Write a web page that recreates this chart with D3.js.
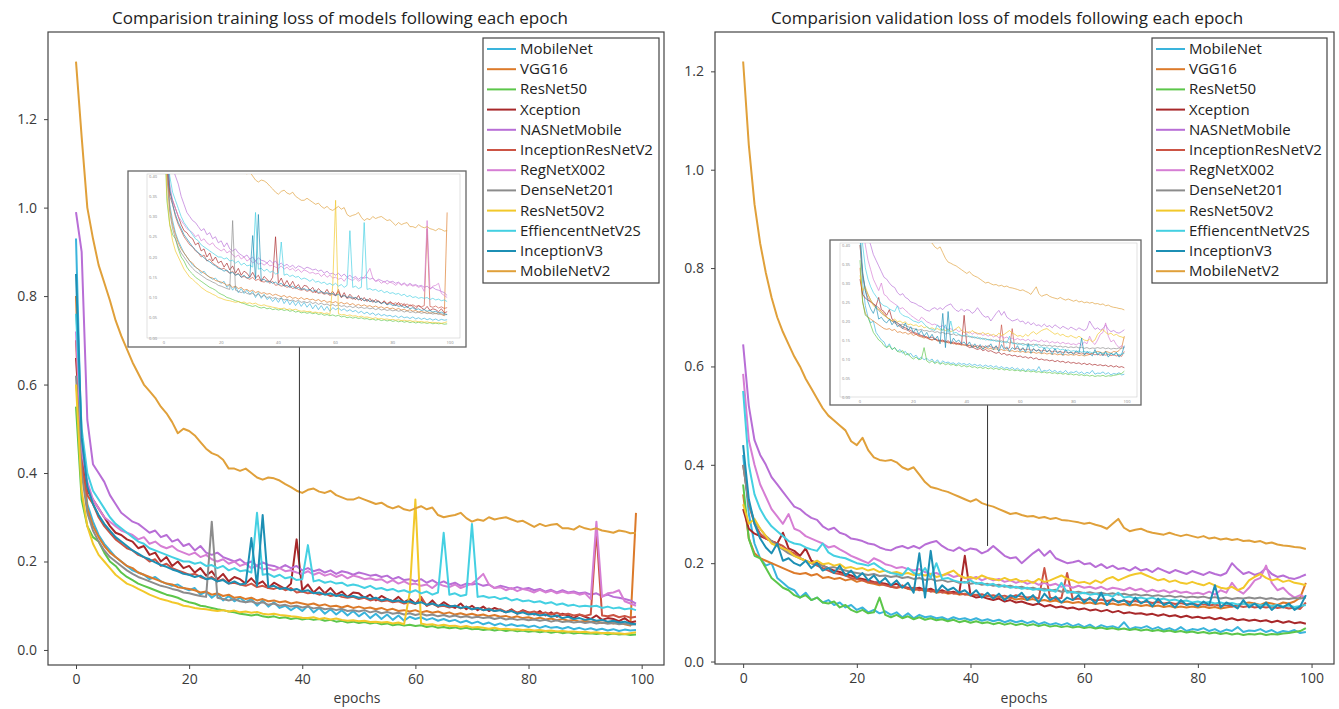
<!DOCTYPE html>
<html><head><meta charset="utf-8">
<script src="https://cdn.jsdelivr.net/npm/d3@7"></script>
<style>body{margin:0;background:#fff}svg{display:block}text{font-family:"Open Sans",sans-serif}</style>
</head><body><svg id="c" width="1339" height="709"></svg>
<script>
const models = ["MobileNet","VGG16","ResNet50","Xception","NASNetMobile","InceptionResNetV2","RegNetX002","DenseNet201","ResNet50V2","EffiencentNetV2S","InceptionV3","MobileNetV2"];
const colors = ["#3ab4dc","#dc7a2a","#5cc64a","#a8282a","#b86ed6","#cc5444","#d67ed4","#8c8c8c","#f2c82a","#44d0e2","#1c8fb4","#e0a03a"];
const epochs = [0,1,2,3,4,5,6,7,8,9,10,11,12,13,14,15,16,17,18,19,20,21,22,23,24,25,26,27,28,29,30,31,32,33,34,35,36,37,38,39,40,41,42,43,44,45,46,47,48,49,50,51,52,53,54,55,56,57,58,59,60,61,62,63,64,65,66,67,68,69,70,71,72,73,74,75,76,77,78,79,80,81,82,83,84,85,86,87,88,89,90,91,92,93,94,95,96,97,98,99];
const xTicks = [0,20,40,60,80,100];
const yTicks = [0,0.2,0.4,0.6,0.8,1.0,1.2];
const insetYTicks = [0,0.05,0.1,0.15,0.2,0.25,0.3,0.35,0.4];
const titles = ["Comparision training loss of models following each epoch","Comparision validation loss of models following each epoch"];
const xLabel = "epochs";

// ---------- training loss ----------
const trainMobileNet = [.93,.45,.33,.29,.26,.24,.225,.21,.2,.19, .18,.175,.17,.16,.165,.155,.15,.145,.148,.14, .135,.14,.125,.132,.118,.128,.112,.122,.11,.118, .108,.115,.1,.112,.098,.108,.095,.1,.09,.098, .088,.1,.085,.095,.082,.092,.08,.09,.078,.088, .076,.085,.072,.082,.07,.08,.068,.078,.066,.075, .07,.074,.068,.072,.066,.07,.065,.068,.062,.066, .06,.064,.058,.062,.056,.06,.055,.058,.054,.056, .052,.055,.05,.054,.05,.052,.048,.052,.047,.05, .046,.049,.045,.048,.044,.047,.043,.046,.044,.045];
const trainVGG16 = [.80,.42,.32,.28,.255,.235,.22,.21,.2,.19, .185,.175,.17,.165,.16,.155,.15,.148,.142,.14, .138,.135,.13,.132,.125,.128,.122,.125,.118,.12, .115,.118,.112,.115,.11,.112,.108,.11,.105,.108, .105,.102,.105,.1,.103,.098,.1,.096,.1,.095, .098,.094,.096,.092,.095,.09,.093,.088,.09,.087, .09,.085,.088,.084,.087,.082,.085,.08,.083,.079, .082,.078,.08,.076,.079,.075,.077,.073,.076,.072, .074,.07,.073,.069,.071,.067,.07,.066,.068,.064, .066,.063,.065,.061,.063,.06,.062,.058,.055,.31];
const trainResNet50 = [.55,.34,.28,.255,.245,.22,.2,.19,.175,.165, .158,.15,.145,.14,.135,.13,.125,.122,.118,.112, .108,.105,.1,.098,.095,.092,.09,.087,.085,.082, .08,.078,.08,.076,.074,.076,.072,.074,.07,.072, .069,.071,.068,.07,.066,.068,.064,.066,.062,.064, .061,.063,.06,.062,.058,.06,.056,.058,.055,.057, .054,.056,.052,.054,.05,.052,.049,.051,.048,.05, .047,.048,.045,.047,.044,.046,.043,.045,.042,.044, .041,.043,.04,.042,.039,.041,.038,.04,.037,.039, .037,.038,.036,.038,.035,.037,.035,.036,.034,.035];
const trainXception = [.66,.45,.36,.34,.32,.30,.28,.265,.26,.25, .245,.23,.235,.215,.22,.2,.21,.19,.2,.185, .19,.175,.185,.168,.178,.16,.172,.155,.165,.16, .15,.162,.148,.155,.14,.152,.145,.138,.15,.25, .135,.148,.13,.142,.128,.14,.125,.132,.12,.13, .128,.118,.125,.112,.122,.115,.11,.12,.108,.115, .105,.115,.1,.112,.098,.108,.1,.095,.105,.092, .1,.09,.098,.088,.095,.09,.085,.092,.082,.09, .085,.08,.088,.078,.085,.075,.082,.078,.072,.08, .075,.07,.078,.068,.072,.07,.065,.072,.062,.065];
const trainNASNetMobile = [.99,.90,.52,.42,.40,.38,.35,.33,.31,.30, .29,.285,.275,.265,.27,.255,.26,.245,.25,.235, .24,.225,.235,.22,.215,.22,.21,.205,.2,.205, .195,.2,.19,.198,.192,.19,.185,.192,.185,.19, .18,.185,.178,.182,.175,.18,.172,.178,.175,.17, .175,.172,.168,.17,.165,.168,.16,.165,.158,.16, .155,.16,.152,.158,.15,.155,.148,.152,.145,.15, .148,.15,.145,.148,.14,.145,.142,.138,.142,.138, .14,.135,.138,.132,.136,.13,.135,.13,.132,.128, .13,.125,.128,.122,.125,.12,.118,.115,.112,.105];
const trainInceptionResNetV2 = [.70,.42,.35,.33,.30,.28,.265,.25,.24,.23, .225,.215,.21,.2,.205,.19,.195,.185,.18,.175, .17,.172,.165,.16,.165,.155,.16,.15,.152,.148, .145,.15,.142,.145,.14,.138,.142,.135,.14,.13, .132,.128,.13,.125,.128,.122,.125,.12,.118,.12, .115,.118,.112,.115,.11,.112,.108,.11,.105,.108, .104,.12,.1,.105,.098,.1,.096,.1,.094,.098, .092,.095,.09,.094,.088,.092,.086,.09,.085,.088, .084,.087,.082,.085,.08,.084,.079,.082,.078,.08, .077,.08,.27,.078,.076,.079,.074,.077,.073,.075];
const trainRegNetX002 = [.72,.45,.38,.34,.32,.30,.29,.28,.27,.265, .26,.25,.255,.24,.245,.235,.23,.235,.225,.22, .215,.22,.21,.215,.205,.2,.205,.195,.2,.19, .195,.185,.19,.182,.185,.18,.185,.178,.18,.175, .172,.178,.17,.175,.168,.172,.165,.17,.162,.168, .165,.16,.162,.158,.16,.152,.158,.15,.155,.148, .15,.145,.148,.14,.15,.145,.142,.148,.14,.145, .15,.16,.172,.148,.14,.142,.135,.14,.133,.138, .135,.13,.136,.13,.134,.128,.132,.128,.13,.125, .128,.115,.29,.12,.128,.13,.135,.11,.105,.10];
const trainDenseNet201 = [.62,.40,.31,.27,.245,.225,.21,.2,.19,.18, .172,.165,.16,.155,.15,.145,.142,.138,.135,.13, .128,.125,.122,.12,.29,.118,.115,.112,.115,.11, .108,.11,.105,.108,.102,.105,.1,.102,.098,.1, .096,.098,.094,.096,.092,.094,.09,.093,.088,.09, .087,.09,.085,.088,.083,.086,.082,.084,.08,.083, .079,.082,.078,.08,.076,.079,.075,.078,.074,.076, .073,.075,.072,.074,.07,.073,.069,.071,.068,.07, .067,.069,.066,.068,.064,.067,.063,.065,.062,.064, .061,.063,.06,.062,.059,.061,.058,.06,.057,.058];
const trainResNet50V2 = [.60,.36,.28,.24,.215,.2,.185,.17,.16,.15, .145,.138,.132,.125,.12,.115,.112,.108,.105,.1, .098,.095,.093,.092,.09,.088,.09,.087,.089,.085, .087,.084,.086,.082,.08,.082,.079,.078,.076,.075, .073,.072,.074,.07,.072,.069,.071,.068,.066,.067, .065,.066,.063,.064,.062,.063,.06,.062,.058,.13, .34,.06,.057,.058,.055,.057,.054,.055,.052,.054, .051,.052,.05,.048,.05,.047,.048,.046,.047,.045, .046,.044,.045,.043,.044,.042,.043,.041,.042,.04, .041,.039,.04,.038,.039,.037,.038,.036,.038,.04];
const trainEffiencentNetV2S = [.76,.50,.40,.36,.34,.32,.30,.285,.275,.265, .255,.245,.24,.23,.225,.22,.215,.21,.205,.2, .2,.195,.198,.19,.192,.185,.19,.18,.185,.178, .18,.175,.31,.17,.172,.165,.17,.162,.165,.158, .16,.237,.155,.158,.152,.155,.15,.152,.145,.148, .145,.14,.145,.138,.14,.135,.138,.132,.135,.13, .135,.128,.132,.125,.13,.265,.125,.128,.122,.125, .285,.12,.122,.118,.12,.115,.118,.112,.115,.11, .112,.108,.11,.105,.108,.102,.105,.1,.102,.098, .1,.098,.1,.095,.098,.094,.096,.092,.094,.09];
const trainInceptionV3 = [.85,.48,.37,.33,.305,.285,.27,.255,.245,.235, .225,.218,.21,.205,.198,.192,.188,.182,.178,.172, .17,.165,.168,.16,.162,.155,.158,.15,.155,.148, .15,.253,.145,.305,.142,.145,.138,.14,.135,.138, .132,.135,.128,.13,.125,.128,.122,.125,.12,.122, .118,.12,.115,.118,.112,.115,.11,.112,.108,.11, .105,.108,.102,.105,.1,.102,.098,.1,.095,.098, .092,.095,.09,.092,.088,.09,.085,.088,.082,.085, .08,.082,.078,.08,.075,.078,.072,.075,.07,.072, .068,.07,.066,.068,.064,.066,.062,.064,.06,.058];
const trainMobileNetV2 = [1.33,1.16,1.00,.93,.87,.83,.79,.745,.71,.68, .65,.625,.60,.585,.57,.55,.535,.515,.49,.50, .495,.485,.47,.455,.445,.44,.43,.41,.41,.405, .41,.40,.39,.385,.39,.388,.383,.375,.368,.36, .355,.362,.365,.358,.355,.36,.35,.345,.34,.34, .345,.34,.335,.33,.333,.325,.32,.325,.318,.315, .32,.325,.318,.322,.305,.30,.303,.305,.31,.298, .29,.295,.292,.30,.295,.298,.30,.295,.29,.292, .285,.278,.285,.28,.283,.285,.275,.275,.272,.28, .275,.272,.275,.27,.268,.265,.27,.268,.264,.265];

// ---------- validation loss ----------
const valMobileNet = [.42,.3,.24,.21,.195,.2,.17,.16,.15,.145, .13,.14,.125,.13,.12,.125,.115,.12,.11,.115, .105,.11,.1,.105,.098,.102,.095,.1,.09,.098, .088,.095,.09,.092,.088,.09,.085,.09,.086,.088, .084,.088,.083,.086,.082,.085,.08,.084,.08,.083, .078,.082,.076,.08,.075,.078,.074,.078,.072,.076, .07,.075,.068,.074,.07,.072,.068,.08,.066,.07, .068,.072,.066,.07,.064,.068,.063,.07,.062,.066, .064,.068,.062,.066,.06,.065,.062,.07,.06,.063, .062,.066,.06,.064,.058,.062,.06,.064,.058,.06];
const valVGG16 = [.34,.25,.22,.21,.205,.2,.195,.19,.185,.18, .178,.18,.175,.178,.17,.172,.168,.17,.165,.168, .162,.165,.16,.158,.155,.158,.152,.15,.152,.148, .145,.148,.143,.145,.14,.142,.138,.14,.136,.138, .134,.136,.132,.134,.13,.132,.128,.13,.126,.128, .125,.127,.123,.125,.122,.124,.12,.122,.119,.121, .118,.12,.117,.119,.116,.118,.115,.117,.114,.116, .113,.115,.112,.114,.111,.113,.11,.112,.11,.112, .11,.112,.109,.111,.108,.11,.112,.115,.118,.12, .118,.115,.12,.118,.115,.12,.118,.122,.13,.16];
const valResNet50 = [.36,.25,.215,.21,.19,.17,.16,.15,.145,.135, .13,.135,.125,.13,.12,.118,.122,.11,.115,.105, .1,.105,.098,.1,.13,.095,.09,.095,.088,.092, .086,.09,.085,.088,.084,.086,.082,.085,.08,.083, .079,.082,.078,.08,.076,.079,.075,.078,.074,.077, .073,.076,.072,.075,.071,.073,.07,.072,.069,.071, .068,.07,.067,.069,.066,.068,.065,.067,.064,.066, .063,.065,.062,.064,.061,.063,.06,.062,.059,.061, .058,.06,.057,.059,.056,.058,.055,.057,.054,.056, .055,.057,.054,.056,.055,.057,.058,.06,.062,.068];
const valXception = [.31,.27,.26,.255,.25,.245,.24,.262,.23,.225, .215,.23,.205,.2,.195,.19,.185,.182,.178,.175, .17,.168,.165,.162,.16,.158,.155,.158,.152,.15, .148,.15,.145,.148,.142,.145,.14,.142,.138,.215, .135,.13,.132,.128,.125,.128,.122,.125,.12,.122, .118,.115,.118,.112,.115,.11,.112,.108,.11,.106, .108,.104,.106,.102,.105,.1,.103,.098,.1,.097, .098,.095,.097,.093,.096,.092,.094,.09,.093,.089, .091,.088,.09,.086,.089,.085,.088,.084,.086,.083, .085,.082,.084,.08,.083,.079,.082,.078,.08,.077];
const valNASNetMobile = [.645,.52,.45,.42,.40,.375,.36,.345,.33,.315, .31,.30,.292,.288,.275,.268,.272,.262,.258,.25, .248,.245,.24,.238,.232,.228,.226,.232,.235,.23, .235,.23,.238,.242,.245,.235,.228,.225,.232,.225, .23,.228,.22,.225,.235,.225,.215,.21,.212,.2, .21,.22,.228,.215,.225,.21,.205,.2,.202,.205, .198,.2,.192,.198,.19,.195,.188,.19,.185,.192, .185,.188,.182,.19,.185,.18,.186,.182,.178,.184, .18,.176,.182,.178,.175,.18,.2,.188,.178,.182, .176,.18,.19,.178,.172,.175,.17,.168,.172,.177];
const valInceptionResNetV2 = [.40,.32,.28,.26,.25,.245,.24,.235,.225,.22, .21,.205,.2,.195,.19,.185,.18,.178,.175,.17, .168,.165,.162,.16,.158,.155,.152,.15,.155,.148, .15,.145,.148,.142,.145,.14,.143,.138,.14,.136, .138,.135,.137,.133,.135,.132,.134,.13,.135,.132, .13,.132,.128,.19,.13,.127,.129,.18,.126,.128, .125,.127,.124,.126,.123,.125,.122,.124,.121,.123, .12,.122,.119,.121,.118,.12,.117,.119,.116,.118, .115,.117,.114,.116,.113,.115,.112,.114,.111,.113, .11,.112,.11,.112,.109,.111,.108,.11,.107,.12];
const valRegNetX002 = [.585,.45,.40,.36,.335,.31,.295,.28,.30,.27, .265,.255,.25,.245,.24,.232,.235,.228,.222,.215, .21,.205,.2,.21,.205,.198,.195,.19,.192,.188, .185,.188,.182,.178,.18,.175,.178,.172,.175,.17, .168,.172,.165,.17,.165,.168,.162,.165,.16,.164, .158,.162,.156,.16,.155,.158,.152,.155,.15,.154, .15,.152,.148,.152,.146,.15,.148,.145,.15,.145, .148,.142,.146,.142,.145,.14,.144,.14,.142,.138, .14,.137,.142,.136,.145,.14,.16,.145,.138,.15, .165,.17,.195,.16,.145,.15,.138,.13,.135,.13];
const valDenseNet201 = [.40,.32,.285,.27,.255,.245,.235,.228,.22,.215, .21,.205,.2,.198,.195,.19,.192,.188,.185,.182, .18,.178,.176,.178,.174,.175,.172,.174,.17,.172, .168,.17,.166,.168,.164,.166,.162,.164,.16,.162, .158,.16,.156,.158,.154,.156,.152,.154,.15,.152, .148,.15,.146,.148,.144,.146,.142,.144,.14,.142, .139,.141,.138,.14,.137,.139,.136,.138,.135,.137, .134,.136,.133,.135,.132,.134,.131,.133,.13,.132, .13,.132,.129,.131,.128,.13,.127,.129,.128,.13, .128,.13,.127,.129,.126,.128,.127,.129,.128,.13];
const valResNet50V2 = [.32,.28,.29,.27,.255,.24,.235,.23,.225,.215, .21,.205,.2,.205,.198,.2,.195,.198,.19,.192, .188,.19,.185,.188,.182,.185,.18,.182,.178,.18, .176,.178,.175,.178,.172,.175,.18,.185,.175,.17, .172,.168,.175,.17,.168,.165,.17,.165,.168,.162, .165,.16,.168,.162,.165,.17,.175,.168,.165,.16, .162,.158,.165,.16,.168,.172,.165,.17,.175,.178, .18,.175,.17,.165,.168,.162,.165,.16,.158,.162, .158,.155,.16,.155,.15,.148,.152,.145,.15,.165, .172,.178,.17,.165,.168,.162,.165,.16,.158,.155];
const valEffiencentNetV2S = [.55,.40,.34,.31,.29,.275,.265,.255,.245,.24, .238,.232,.228,.225,.24,.222,.215,.212,.21,.205, .2,.198,.195,.2,.192,.185,.18,.178,.175,.19, .18,.175,.19,.17,.2,.168,.17,.165,.162,.16, .165,.158,.16,.155,.158,.152,.155,.15,.152,.148, .15,.146,.148,.144,.146,.142,.16,.14,.142,.138, .14,.136,.138,.134,.136,.132,.14,.13,.132,.128, .13,.127,.13,.125,.128,.124,.126,.122,.124,.12, .122,.119,.121,.118,.12,.117,.119,.116,.118,.115, .117,.114,.116,.113,.115,.112,.114,.111,.113,.115];
const valInceptionV3 = [.44,.33,.28,.25,.232,.22,.24,.205,.21,.2, .195,.205,.19,.2,.185,.19,.18,.195,.175,.185, .17,.18,.165,.175,.16,.17,.155,.165,.15,.16, .14,.22,.13,.225,.14,.155,.145,.15,.14,.145, .135,.145,.13,.14,.128,.138,.125,.135,.13,.14, .125,.135,.12,.138,.125,.132,.12,.13,.125,.135, .12,.13,.118,.14,.115,.128,.12,.125,.115,.13, .118,.125,.112,.128,.115,.12,.11,.125,.115,.118, .112,.122,.115,.155,.11,.12,.115,.108,.125,.11, .118,.108,.12,.105,.115,.11,.118,.105,.112,.135];
const valMobileNetV2 = [1.22,1.05,.93,.85,.79,.74,.70,.67,.645,.62, .60,.575,.555,.535,.515,.50,.49,.48,.47,.448, .44,.455,.43,.415,.41,.408,.41,.405,.395,.39, .395,.38,.365,.355,.352,.348,.345,.34,.335,.33, .325,.33,.322,.318,.315,.31,.305,.30,.302,.298, .295,.296,.292,.294,.29,.292,.288,.287,.285,.283, .28,.282,.278,.275,.27,.28,.29,.272,.265,.268, .27,.265,.262,.26,.258,.262,.258,.255,.258,.255, .252,.255,.25,.252,.248,.25,.247,.249,.245,.246, .243,.245,.24,.242,.238,.236,.235,.233,.232,.229];

const trainSeries = [trainMobileNet,trainVGG16,trainResNet50,trainXception,trainNASNetMobile,trainInceptionResNetV2,trainRegNetX002,trainDenseNet201,trainResNet50V2,trainEffiencentNetV2S,trainInceptionV3,trainMobileNetV2];
const valSeries = [valMobileNet,valVGG16,valResNet50,valXception,valNASNetMobile,valInceptionResNetV2,valRegNetX002,valDenseNet201,valResNet50V2,valEffiencentNetV2S,valInceptionV3,valMobileNetV2];

// connector anchor (epoch, loss) for each panel
const connectorEpochs = [39.5, 43];
const connectorLoss = [0.17, 0.235];

const svg = d3.select("#c");

const panels = [
  {series: trainSeries, title: titles[0], x0:48, x1:664, y0:32, y1:665, yDom:[-0.034,1.397], titleX:340, labelX:357, legX:483, legW:176,
   inset:{ox:128, oy:171, ow:338, oh:176, fx0:147, fx1:460, fy0:174, fy1:338, dx0:164, dx1:450, dy0:338, dy1:176}},
  {series: valSeries, title: titles[1], x0:715, x1:1334, y0:32, y1:664, yDom:[-0.005,1.28], titleX:1007, labelX:1024, legX:1152, legW:175,
   inset:{ox:830, oy:240, ow:311, oh:165, fx0:840, fx1:1137, fy0:243, fy1:397, dx0:860, dx1:1127, dy0:397, dy1:245}}
];

panels.forEach((p, pi) => {
  const g = svg.append("g");
  const x = d3.scaleLinear().domain([-4.95, 103.95]).range([p.x0, p.x1]);
  const y = d3.scaleLinear().domain(p.yDom).range([p.y1, p.y0]);

  const clipId = "clip" + pi;
  svg.append("clipPath").attr("id", clipId).append("rect")
    .attr("x", p.x0).attr("y", p.y0).attr("width", p.x1 - p.x0).attr("height", p.y1 - p.y0);

  const line = d3.line().x((d, i) => x(epochs[i])).y(d => y(d));
  const lg = g.append("g").attr("clip-path", `url(#${clipId})`);
  p.series.forEach((s, i) => {
    lg.append("path").attr("d", line(s)).attr("fill", "none")
      .attr("stroke", colors[i]).attr("stroke-width", 2).attr("stroke-linejoin", "round");
  });

  // axes
  const ax = g.append("g").attr("transform", `translate(0,${p.y1})`)
    .call(d3.axisBottom(x).tickValues(xTicks).tickSize(4).tickPadding(5).tickFormat(d3.format("d")));
  const ay = g.append("g").attr("transform", `translate(${p.x0},0)`)
    .call(d3.axisLeft(y).tickValues(yTicks).tickSize(4).tickPadding(7).tickFormat(d3.format(".1f")));
  [ax, ay].forEach(a => {
    a.select(".domain").remove();
    a.selectAll("line").attr("stroke", "#444");
    a.selectAll("text").attr("font-size", 14).attr("fill", "#3a3a3a").attr("font-family", "Open Sans");
  });
  g.append("rect").attr("x", p.x0).attr("y", p.y0).attr("width", p.x1 - p.x0).attr("height", p.y1 - p.y0)
    .attr("fill", "none").attr("stroke", "#444").attr("stroke-width", 1.2);

  g.append("text").attr("x", p.titleX).attr("y", 24).attr("text-anchor", "middle")
    .attr("font-size", 17).attr("fill", "#222").text(p.title);
  g.append("text").attr("x", p.labelX).attr("y", 703).attr("text-anchor", "middle")
    .attr("font-size", 14).attr("fill", "#3a3a3a").text(xLabel);

  // connector
  const ins = p.inset;
  g.append("line").attr("x1", x(connectorEpochs[pi])).attr("x2", x(connectorEpochs[pi]))
    .attr("y1", ins.oy + ins.oh).attr("y2", y(connectorLoss[pi]))
    .attr("stroke", "#333").attr("stroke-width", 1);

  // inset
  const ig = g.append("g");
  ig.append("rect").attr("x", ins.ox).attr("y", ins.oy).attr("width", ins.ow).attr("height", ins.oh)
    .attr("fill", "#fff").attr("stroke", "#666").attr("stroke-width", 1.3);
  ig.append("rect").attr("x", ins.fx0).attr("y", ins.fy0).attr("width", ins.fx1 - ins.fx0).attr("height", ins.fy1 - ins.fy0)
    .attr("fill", "none").attr("stroke", "#ccc").attr("stroke-width", 0.6);
  const ix = d3.scaleLinear().domain([0, 100]).range([ins.dx0, ins.dx1]);
  const iy = d3.scaleLinear().domain([0, 0.4]).range([ins.dy0, ins.dy1]);
  const iclip = "iclip" + pi;
  svg.append("clipPath").attr("id", iclip).append("rect")
    .attr("x", ins.fx0).attr("y", ins.fy0).attr("width", ins.fx1 - ins.fx0).attr("height", ins.fy1 - ins.fy0);
  const iline = d3.line().x((d, i) => ix(epochs[i])).y(d => iy(d));
  const ilg = ig.append("g").attr("clip-path", `url(#${iclip})`);
  p.series.forEach((s, i) => {
    ilg.append("path").attr("d", iline(s)).attr("fill", "none")
      .attr("stroke", colors[i]).attr("stroke-width", 0.9).attr("stroke-opacity", 0.75);
  });
  insetYTicks.forEach(t => {
    ig.append("text").attr("x", ins.fx0 + 10).attr("y", iy(t) + 1.5).attr("text-anchor", "end")
      .attr("font-size", 4).attr("fill", "#888").text(t.toFixed(2));
  });
  xTicks.forEach(t => {
    ig.append("text").attr("x", ix(t)).attr("y", ins.fy1 + 6).attr("text-anchor", "middle")
      .attr("font-size", 4).attr("fill", "#888").text(t);
  });

  // legend
  const leg = g.append("g");
  leg.append("rect").attr("x", p.legX).attr("y", 38).attr("width", p.legW).attr("height", 245)
    .attr("fill", "#fff").attr("stroke", "#444").attr("stroke-width", 1.2);
  models.forEach((m, i) => {
    const cy = 49 + i * 20.2;
    leg.append("line").attr("x1", p.legX + 4).attr("x2", p.legX + 33).attr("y1", cy).attr("y2", cy)
      .attr("stroke", colors[i]).attr("stroke-width", 2);
    leg.append("text").attr("x", p.legX + 37).attr("y", cy + 5).attr("font-size", 15)
      .attr("fill", "#222").text(m);
  });
});
</script></body></html>
